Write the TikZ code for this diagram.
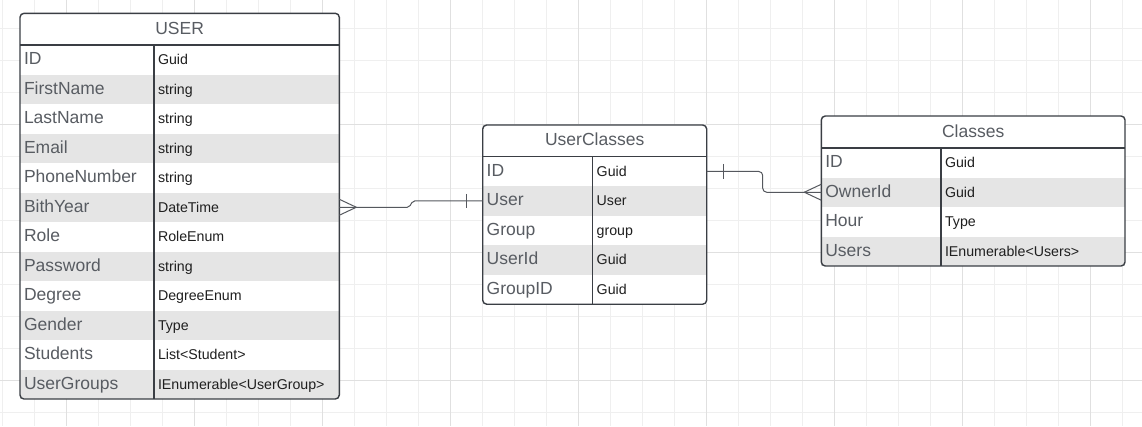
\documentclass[tikz,border=0pt]{standalone}
\usepackage{fontspec}
\setmainfont{Liberation Sans}
\usetikzlibrary{positioning}
\usetikzlibrary{calc}
\definecolor{gridminor}{RGB}{239,239,239}
\definecolor{gridmajor}{RGB}{224,224,224}
\definecolor{rowgray}{RGB}{229,229,229}
\definecolor{namegray}{RGB}{88,92,98}
\definecolor{bordergray}{RGB}{58,62,68}
\definecolor{relgray}{RGB}{85,88,94}
\tikzset{
    tablebox/.style = {draw=bordergray, line width=1.4pt, rounded corners=4pt},
    tablesep/.style = {draw=bordergray, line width=1.4pt},
    tabletitle/.style = {rectangle, anchor=north west, fill=white, minimum height=31.7pt, inner sep=0pt, outer sep=0pt, text height=13pt, text depth=3pt, font=\fontsize{17.5}{20}\selectfont, text=namegray},
    fieldname/.style = {rectangle, anchor=north west, fill=white, minimum height=29.5pt, inner xsep=4pt, inner ysep=0pt, outer sep=0pt, text width=#1, align=left, text height=13pt, text depth=3pt, font=\fontsize{17.5}{20}\selectfont, text=namegray},
    fieldtype/.style = {fieldname=#1, font=\fontsize{14.2}{16}\selectfont, text=black!88},
    greyrow/.style = {fill=rowgray},
    relline/.style = {draw=relgray, line width=1pt},
    gridline/.style = {draw=gridminor, line width=1pt},
    gridbold/.style = {draw=gridmajor, line width=1pt}
}
\begin{document}
\begin{tikzpicture}[x=1pt,y=-1pt]
\useasboundingbox (0,0) rectangle (1142,426);
\fill[white] (0,0) rectangle (1142,426);

% grid
\foreach \gx in {0,...,35} {\draw[gridline] (2.7+32*\gx,0) -- (2.7+32*\gx,426);}
\foreach \gy in {0,...,12} {\draw[gridline] (0,28+32*\gy) -- (1142,28+32*\gy);}
\foreach \gx in {66.7,194.7,...,1090.7} {\draw[gridbold] (\gx,0) -- (\gx,426);}
\foreach \gy in {124,252,380} {\draw[gridbold] (0,\gy) -- (1142,\gy);}

% USER
\node[tabletitle, minimum width=319.3pt] at (20,13.3) (user) {USER};
\node[fieldname=126pt] at (user.south west) (u1) {ID};
\node[fieldname=126pt, greyrow, below=0pt of u1] (u2) {FirstName};
\node[fieldname=126pt, below=0pt of u2] (u3) {LastName};
\node[fieldname=126pt, greyrow, below=0pt of u3] (u4) {Email};
\node[fieldname=126pt, below=0pt of u4] (u5) {PhoneNumber};
\node[fieldname=126pt, greyrow, below=0pt of u5] (u6) {BithYear};
\node[fieldname=126pt, below=0pt of u6] (u7) {Role};
\node[fieldname=126pt, greyrow, below=0pt of u7] (u8) {Password};
\node[fieldname=126pt, below=0pt of u8] (u9) {Degree};
\node[fieldname=126pt, greyrow, below=0pt of u9] (u10) {Gender};
\node[fieldname=126pt, below=0pt of u10] (u11) {Students};
\node[fieldname=126pt, greyrow, below=0pt of u11] (u12) {UserGroups};
\node[fieldtype=177.3pt, right=0pt of u1] (u1t) {Guid};
\node[fieldtype=177.3pt, greyrow, right=0pt of u2] (u2t) {string};
\node[fieldtype=177.3pt, right=0pt of u3] (u3t) {string};
\node[fieldtype=177.3pt, greyrow, right=0pt of u4] (u4t) {string};
\node[fieldtype=177.3pt, right=0pt of u5] (u5t) {string};
\node[fieldtype=177.3pt, greyrow, right=0pt of u6] (u6t) {DateTime};
\node[fieldtype=177.3pt, right=0pt of u7] (u7t) {RoleEnum};
\node[fieldtype=177.3pt, greyrow, right=0pt of u8] (u8t) {string};
\node[fieldtype=177.3pt, right=0pt of u9] (u9t) {DegreeEnum};
\node[fieldtype=177.3pt, greyrow, right=0pt of u10] (u10t) {Type};
\node[fieldtype=177.3pt, right=0pt of u11] (u11t) {List<Student>};
\node[fieldtype=177.3pt, greyrow, right=0pt of u12] (u12t) {IEnumerable<UserGroup>};
\draw[tablebox] (user.north west) rectangle (u12t.south east);
\draw[tablesep] (user.south west) -- (user.south east);
\draw[tablesep] (u1t.north west) -- (u12t.south west);

% UserClasses
\node[tabletitle, minimum width=224pt] at (482.7,125) (userclasses) {UserClasses};
\node[fieldname=102pt] at (userclasses.south west) (uc1) {ID};
\node[fieldname=102pt, greyrow, below=0pt of uc1] (uc2) {User};
\node[fieldname=102pt, below=0pt of uc2] (uc3) {Group};
\node[fieldname=102pt, greyrow, below=0pt of uc3] (uc4) {UserId};
\node[fieldname=102pt, below=0pt of uc4] (uc5) {GroupID};
\node[fieldtype=106pt, right=0pt of uc1] (uc1t) {Guid};
\node[fieldtype=106pt, greyrow, right=0pt of uc2] (uc2t) {User};
\node[fieldtype=106pt, right=0pt of uc3] (uc3t) {group};
\node[fieldtype=106pt, greyrow, right=0pt of uc4] (uc4t) {Guid};
\node[fieldtype=106pt, right=0pt of uc5] (uc5t) {Guid};
\draw[tablebox] (userclasses.north west) rectangle (uc5t.south east);
\draw[tablesep] (userclasses.south west) -- (userclasses.south east);
\draw[tablesep] (uc1t.north west) -- (uc5t.south west);

% Classes
\node[tabletitle, minimum width=303.7pt, minimum height=32pt] at (821.3,116) (classes) {Classes};
\node[fieldname=111.7pt] at (classes.south west) (c1) {ID};
\node[fieldname=111.7pt, greyrow, below=0pt of c1] (c2) {OwnerId};
\node[fieldname=111.7pt, below=0pt of c2] (c3) {Hour};
\node[fieldname=111.7pt, greyrow, below=0pt of c3] (c4) {Users};
\node[fieldtype=176pt, right=0pt of c1] (c1t) {Guid};
\node[fieldtype=176pt, greyrow, right=0pt of c2] (c2t) {Guid};
\node[fieldtype=176pt, right=0pt of c3] (c3t) {Type};
\node[fieldtype=176pt, greyrow, right=0pt of c4] (c4t) {IEnumerable<Users>};
\draw[tablebox] (classes.north west) rectangle (c4t.south east);
\draw[tablesep] (classes.south west) -- (classes.south east);
\draw[tablesep] (c1t.north west) -- (c4t.south west);

% relations
\draw[relline, rounded corners=2pt] (u6t.east) -- ++(70,0) -- ($(uc2.west)+(-70,0)$) -- (uc2.west);
\draw[relline] ($(u6t.east)+(0,-8)$) -- ($(u6t.east)+(17,0)$) -- ($(u6t.east)+(0,8)$);
\draw[relline] ($(uc2.west)+(-16.5,-7)$) -- ($(uc2.west)+(-16.5,7)$);

\draw[relline, rounded corners=4pt] (uc1t.east) -- ++(56,0) |- (c2.west);
\draw[relline] ($(uc1t.east)+(16.6,-7.7)$) -- ($(uc1t.east)+(16.6,7.7)$);
\draw[relline] ($(c2.west)+(0,-8)$) -- ($(c2.west)+(-17,0)$) -- ($(c2.west)+(0,8)$);

\end{tikzpicture}
\end{document}
